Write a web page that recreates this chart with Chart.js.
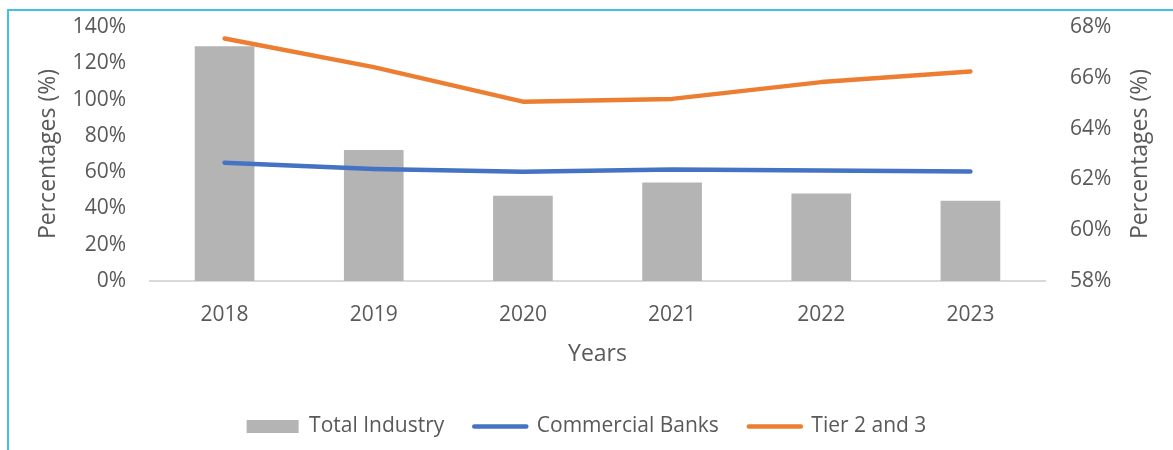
<!DOCTYPE html>
<html>
<head>
<meta charset="utf-8">
<script src="https://cdn.jsdelivr.net/npm/chart.js@4/dist/chart.umd.min.js"></script>
<style>
  html, body { margin: 0; padding: 0; background: #ffffff; }
  body { width: 1173px; height: 450px; overflow: hidden; position: relative; }
  .frame {
    position: absolute; left: 7px; top: 9px; width: 2000px; height: 2000px;
    border-left: 2px solid #3fc1e8; border-top: 2px solid #3fc1e8;
  }
  .wrap { position: absolute; left: 0; top: 0; width: 1173px; height: 450px; }
</style>
</head>
<body>
<div class="frame"></div>
<div class="wrap"><canvas id="chart" width="1173" height="450"></canvas></div>
<script>
// Years on the category axis
const years = ['2018', '2019', '2020', '2021', '2022', '2023'];

// Total Industry (bars, left axis, %)
const totalIndustry = [129.4, 72.2, 47.0, 54.3, 48.2, 44.3];

// Commercial Banks (line, left axis, %)
const commercialBanks = [65.2, 61.8, 60.2, 61.5, 60.9, 60.4];

// Tier 2 and 3 (line, right axis, %)
const tier23 = [67.55, 66.42, 65.06, 65.17, 65.83, 66.25];

// Axis tick ranges
const leftTicks = { min: 0, max: 140, step: 20 };
const rightTicks = { min: 58, max: 68, step: 2 };

const textColor = '#595959';
const fontFamily = "'Open Sans', 'Noto Sans', sans-serif";
const axisTitle = 'Percentages (%)';

// Right-hand axis title, drawn reading bottom-to-top like the left one
const rightTitlePlugin = {
  id: 'rightTitle',
  afterDraw(c) {
    const s = c.scales.y1;
    const ctx = c.ctx;
    ctx.save();
    ctx.translate(s.right - 32.5, (s.top + s.bottom) / 2);
    ctx.rotate(-Math.PI / 2);
    ctx.fillStyle = textColor;
    ctx.font = "23px " + fontFamily;
    ctx.textAlign = 'center';
    ctx.textBaseline = 'middle';
    ctx.fillText(axisTitle, 0, 0);
    ctx.restore();
  }
};

// Vertical axes: fixed width, no extra overflow padding above/below the plot
function fitVertical(width) {
  return scale => {
    scale.width = width;
    scale.paddingTop = 0;
    scale.paddingBottom = 0;
  };
}

const chart = new Chart(document.getElementById('chart'), {
  data: {
    labels: years,
    datasets: [
      {
        type: 'bar',
        label: 'Total Industry',
        data: totalIndustry,
        yAxisID: 'y',
        backgroundColor: '#b4b4b4',
        borderWidth: 0,
        categoryPercentage: 1,
        barPercentage: 0.4,
        pointStyle: 'rect',
        order: 2
      },
      {
        type: 'line',
        label: 'Commercial Banks',
        data: commercialBanks,
        yAxisID: 'y',
        borderColor: '#4472c4',
        backgroundColor: '#4472c4',
        borderWidth: 4.5,
        borderCapStyle: 'round',
        borderJoinStyle: 'round',
        tension: 0,
        pointRadius: 0,
        pointHoverRadius: 0,
        pointStyle: 'line',
        pointBorderColor: '#4472c4',
        pointBorderWidth: 4.5,
        order: 1
      },
      {
        type: 'line',
        label: 'Tier 2 and 3',
        data: tier23,
        yAxisID: 'y1',
        borderColor: '#ed7d31',
        backgroundColor: '#ed7d31',
        borderWidth: 4.5,
        borderCapStyle: 'round',
        borderJoinStyle: 'round',
        tension: 0,
        pointRadius: 0,
        pointHoverRadius: 0,
        pointStyle: 'line',
        pointBorderColor: '#ed7d31',
        pointBorderWidth: 4.5,
        order: 0
      }
    ]
  },
  plugins: [rightTitlePlugin],
  options: {
    responsive: false,
    animation: false,
    layout: { padding: { top: 27, left: 0, right: 0, bottom: 3 } },
    plugins: {
      tooltip: { enabled: false },
      legend: {
        position: 'bottom',
        align: 'center',
        labels: {
          usePointStyle: true,
          pointStyleWidth: 52,
          boxHeight: 13,
          padding: 30,
          color: textColor,
          font: { family: fontFamily, size: 21 },
          generateLabels(c) {
            const items = Chart.defaults.plugins.legend.labels.generateLabels(c);
            items.forEach(it => {
              const ds = c.data.datasets[it.datasetIndex];
              if (ds.type === 'line') {
                it.lineCap = 'round';
                it.lineWidth = ds.borderWidth;
                it.strokeStyle = ds.borderColor;
              }
            });
            return items.sort((a, b) => a.datasetIndex - b.datasetIndex);
          }
        }
      }
    },
    scales: {
      x: {
        grid: { display: false, drawTicks: false },
        border: { display: true, color: '#d9d9d9', width: 2 },
        ticks: { color: textColor, padding: 21, font: { family: fontFamily, size: 21 } },
        title: {
          display: true, text: 'Years', color: textColor,
          font: { family: fontFamily, size: 23, lineHeight: 1.2 },
          padding: { top: 0, bottom: 18 }
        },
        afterFit(scale) { scale.height = 105; }
      },
      y: {
        position: 'left',
        min: leftTicks.min, max: leftTicks.max,
        grid: { display: false, drawTicks: false },
        border: { display: false },
        ticks: {
          stepSize: leftTicks.step, padding: 24, color: textColor,
          font: { family: fontFamily, size: 21 },
          callback: v => v + '%'
        },
        title: {
          display: true, text: axisTitle, color: textColor,
          font: { family: fontFamily, size: 23, lineHeight: 1.2 },
          padding: { top: 35, bottom: 0 }
        },
        afterFit: fitVertical(150)
      },
      y1: {
        position: 'right',
        min: rightTicks.min, max: rightTicks.max,
        grid: { display: false, drawTicks: false },
        border: { display: false },
        ticks: {
          stepSize: rightTicks.step, padding: 25, color: textColor,
          font: { family: fontFamily, size: 21 },
          callback: v => v + '%'
        },
        title: { display: false, text: axisTitle },
        afterFit: fitVertical(128)
      }
    }
  }
});
</script>
</body>
</html>
